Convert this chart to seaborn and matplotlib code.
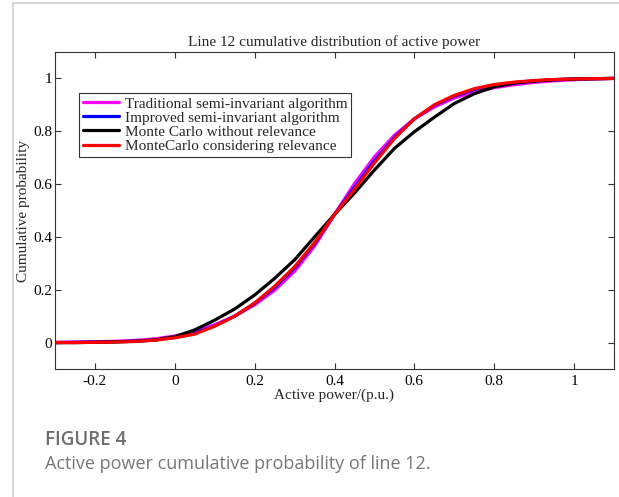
import numpy as np
import pandas as pd
import matplotlib
matplotlib.use("Agg")
import matplotlib.pyplot as plt
from matplotlib.lines import Line2D
from matplotlib.ticker import FixedLocator, FuncFormatter
import seaborn as sns

# ---- data ----
x_vals = [-0.3, -0.25, -0.2, -0.15, -0.1, -0.05, 0.0, 0.05, 0.1, 0.15, 0.2, 0.25, 0.3, 0.35,
          0.4, 0.45, 0.5, 0.55, 0.6, 0.65, 0.7, 0.75, 0.8, 0.85, 0.9, 0.95, 1.0, 1.05, 1.1]
traditional = [0.001, 0.002, 0.003, 0.005, 0.008, 0.014, 0.025, 0.042, 0.068, 0.1, 0.143, 0.198,
               0.27, 0.365, 0.485, 0.602, 0.703, 0.785, 0.847, 0.892, 0.926, 0.949, 0.965,
               0.976, 0.985, 0.991, 0.995, 0.998, 1.0]
improved = [0.0, 0.001, 0.002, 0.003, 0.005, 0.01, 0.02, 0.035, 0.063, 0.1, 0.148, 0.208,
            0.282, 0.374, 0.485, 0.588, 0.688, 0.776, 0.847, 0.898, 0.933, 0.958, 0.974,
            0.984, 0.991, 0.995, 0.998, 0.999, 1.0]
mc_no_rel = [0.0, 0.0, 0.001, 0.003, 0.005, 0.01, 0.022, 0.048, 0.085, 0.127, 0.18, 0.243,
             0.313, 0.4, 0.485, 0.566, 0.653, 0.735, 0.798, 0.853, 0.905, 0.942, 0.968,
             0.982, 0.99, 0.995, 0.998, 0.999, 1.0]
mc_rel = [0.0, 0.0, 0.001, 0.002, 0.004, 0.009, 0.018, 0.032, 0.062, 0.1, 0.15, 0.213,
          0.287, 0.378, 0.485, 0.58, 0.68, 0.772, 0.847, 0.9, 0.936, 0.961, 0.977,
          0.986, 0.992, 0.996, 0.998, 0.999, 1.0]

series_names = ["Traditional semi-invariant algorithm",
                "Improved semi-invariant algorithm",
                "Monte Carlo without relevance",
                "MonteCarlo considering relevance"]
series_colors = ["#ff00ff", "#0000ff", "#000000", "#ff0000"]
x_ticks = [-0.2, 0, 0.2, 0.4, 0.6, 0.8, 1]
y_ticks = [0, 0.2, 0.4, 0.6, 0.8, 1]

title_text = "Line 12 cumulative distribution of active power"
xlabel_text = "Active power/(p.u.)"
ylabel_text = "Cumulative probability"
fig_label = "FIGURE 4"
caption = "Active power cumulative probability of line 12."

# ---- long-form table ----
frames = []
for name, vals in zip(series_names, [traditional, improved, mc_no_rel, mc_rel]):
    frames.append(pd.DataFrame({"x": x_vals, "y": vals, "series": name}))
df = pd.concat(frames, ignore_index=True)

sns.set_theme(style="white")
plt.rcParams["font.family"] = ["Liberation Serif", "DejaVu Serif"]
plt.rcParams["axes.unicode_minus"] = False
plt.rcParams["lines.solid_joinstyle"] = "round"

W, H = 619, 497
fig = plt.figure(figsize=(W / 100, H / 100), dpi=100)
fig.patch.set_facecolor("white")
ax = fig.add_axes([55 / W, 1 - 369 / H, 559 / W, 317 / H])

sns.lineplot(data=df, x="x", y="y", hue="series", hue_order=series_names,
             palette=dict(zip(series_names, series_colors)), sort=False,
             linewidth=2.3, ax=ax, legend=False)

ax.set_xlim(-0.3, 1.1)
ax.set_ylim(-0.1, 1.1)
fmt = FuncFormatter(lambda v, p: "%g" % round(v, 3))
ax.xaxis.set_major_locator(FixedLocator(x_ticks))
ax.yaxis.set_major_locator(FixedLocator(y_ticks))
ax.xaxis.set_major_formatter(fmt)
ax.yaxis.set_major_formatter(fmt)
ax.tick_params(direction="in", length=4, width=0.8, colors="#333333",
               labelsize=11, labelcolor="black", top=True, right=True,
               bottom=True, left=True)
ax.tick_params(axis="x", pad=4)
ax.tick_params(axis="y", pad=2)
for s in ax.spines.values():
    s.set_color("#333333")
    s.set_linewidth(0.8)

ax.set_title(title_text, fontsize=11, pad=4)
ax.set_xlabel(xlabel_text, fontsize=11, labelpad=1)
ax.set_ylabel(ylabel_text, fontsize=11)
ax.yaxis.set_label_coords(-0.044, 0.5)

handles = [Line2D([0], [0], color=c, lw=2.3) for c in series_colors]
leg = ax.legend(handles, series_names, loc="upper left",
                bbox_to_anchor=((79 - 55) / 559, (369 - 93) / 317),
                fontsize=11, frameon=True, fancybox=False, framealpha=1,
                edgecolor="#333333", borderpad=0.25, labelspacing=0.03,
                handlelength=2.4, handletextpad=0.33, borderaxespad=0)
leg.get_frame().set_linewidth(0.8)

# caption
fig.text(45 / W, 1 - 440 / H, fig_label, fontsize=13.5, fontweight="semibold",
         family=["Open Sans", "DejaVu Sans"], color="#6e6e6e", va="center")
fig.text(45 / W, 1 - 464 / H, caption, fontsize=13,
         family=["Open Sans", "DejaVu Sans"], color="#777777", va="center")

# light frame
fig.add_artist(Line2D([13 / W, 13 / W], [0, 1 - 3 / H], transform=fig.transFigure,
                      color="#d8d8d8", lw=1.5))
fig.add_artist(Line2D([13 / W, 1], [1 - 3 / H, 1 - 3 / H], transform=fig.transFigure,
                      color="#d8d8d8", lw=1.5))

fig.savefig("out.png", dpi=100, facecolor="white")
